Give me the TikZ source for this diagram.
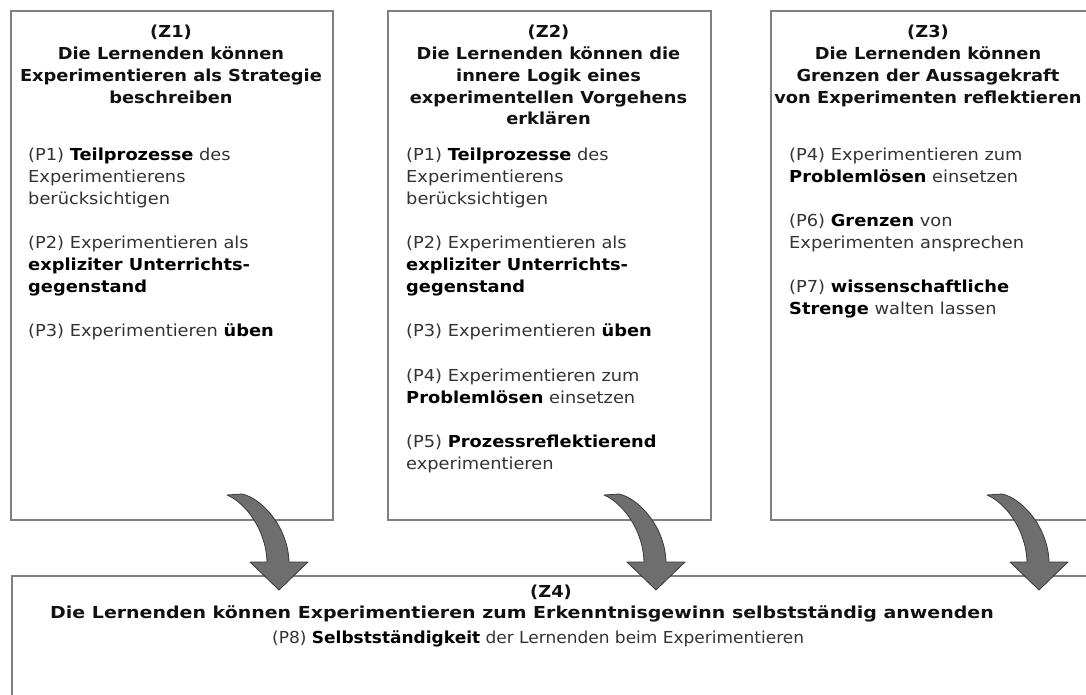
\documentclass[tikz,border=0pt]{standalone}
\usepackage{fontspec}
\setmainfont{DejaVu Sans}[FakeStretch=1.08]
\newfontfamily\widefont{DejaVu Sans}[FakeStretch=1.15]
\newfontfamily\narrowfont{DejaVu Sans}[FakeStretch=1.03]
\definecolor{boxline}{HTML}{808080}
\definecolor{bodytext}{HTML}{333333}
\definecolor{titletext}{HTML}{111111}
\definecolor{arrowfill}{HTML}{6E6E6E}
\definecolor{arrowline}{HTML}{3A3A3A}
\tikzset{
  framebox/.style={draw=boxline, line width=1.6pt, fill=white, inner sep=0pt, anchor=north west},
  titlenode/.style={anchor=north, inner sep=0pt, align=center, text=titletext,
    font=\fontsize{16.5}{21.7}\selectfont\bfseries},
  bodynode/.style={anchor=north west, inner sep=0pt, align=left, text=bodytext,
    font=\fontsize{16.5}{22.1}\selectfont},
  blockarrow/.style={fill=arrowfill, draw=arrowline, line width=0.8pt, line join=round}
}
\newcommand{\bb}[1]{\textcolor{black}{\textbf{#1}}}
\begin{document}
\begin{tikzpicture}[x=1pt,y=-1pt]
\useasboundingbox (0,0) rectangle (1086,695);
\clip (0,0) rectangle (1086,695);
\fill[white] (0,0) rectangle (1086,695);

% boxes
\node[framebox, minimum width=322pt, minimum height=509pt] (z1) at (10,10) {};
\node[framebox, minimum width=323pt, minimum height=509pt] (z2) at (387,10) {};
\node[framebox, minimum width=320pt, minimum height=509pt] (z3) at (770,10) {};
\node[framebox, minimum width=1090pt, minimum height=140pt] (z4) at (11,575) {};

% titles
\node[titlenode] (t1) at (171,22.6) {\strut(Z1)\\Die Lernenden können\\Experimentieren als Strategie\\beschreiben};
\node[titlenode] (t2) at (548.5,22.6) {\strut(Z2)\\Die Lernenden können die\\innere Logik eines\\experimentellen Vorgehens\\erklären};
\node[titlenode] (t3) at (928,22.6) {\strut(Z3)\\Die Lernenden können\\Grenzen der Aussagekraft\\von Experimenten reflektieren};

% bodies
\node[bodynode] (b1) at (28,144.5) {\strut(P1) \bb{Teilprozesse} des\\Experimentierens\\berücksichtigen\\[22.1pt]
(P2) Experimentieren als\\\bb{expliziter Unterrichts-}\\\bb{gegenstand}\\[22.1pt]
(P3) Experimentieren \bb{üben}};
\node[bodynode] (b2) at (406,144.5) {\strut(P1) \bb{Teilprozesse} des\\Experimentierens\\berücksichtigen\\[22.1pt]
(P2) Experimentieren als\\\bb{expliziter Unterrichts-}\\\bb{gegenstand}\\[22.1pt]
(P3) Experimentieren \bb{üben}\\[22.1pt]
(P4) Experimentieren zum\\\bb{Problemlösen} einsetzen\\[22.1pt]
(P5) \bb{Prozessreflektierend}\\experimentieren};
\node[bodynode] (b3) at (789,144.5) {\strut(P4) Experimentieren zum\\\bb{Problemlösen} einsetzen\\[22.1pt]
(P6) \bb{Grenzen} von\\Experimenten ansprechen\\[22.1pt]
(P7) \bb{wissenschaftliche}\\\bb{Strenge} walten lassen};

% Z4 texts
\node[anchor=base, inner sep=0pt, text=titletext, font=\fontsize{16.5}{21.7}\selectfont\bfseries] (t4a) at (551,597) {(Z4)};
\node[anchor=base west, inner sep=0pt, text=titletext, font=\fontsize{16.5}{21.7}\selectfont\widefont\bfseries] (t4b) at (50,618) {Die Lernenden können Experimentieren zum Erkenntnisgewinn selbstständig anwenden};
\node[anchor=base west, inner sep=0pt, text=bodytext, font=\fontsize{16.5}{22.1}\selectfont\narrowfont] (b4) at (272,643) {(P8) \bb{Selbstständigkeit} der Lernenden beim Experimentieren};

% arrow tips
\coordinate (a1) at (279,590);
\coordinate (a2) at (656,590);
\coordinate (a3) at (1039,590);
\foreach \t in {a1,a2,a3}{
  \draw[blockarrow, shift={(\t)}]
    (-52,-95) -- (-37,-96)
    .. controls (-18,-92) and (9,-64) .. (10,-28)
    -- (29,-28) -- (0,0) -- (-29,-28) -- (-12,-28)
    .. controls (-13,-62) and (-35,-88) .. (-52,-95) -- cycle;
}
\end{tikzpicture}
\end{document}
